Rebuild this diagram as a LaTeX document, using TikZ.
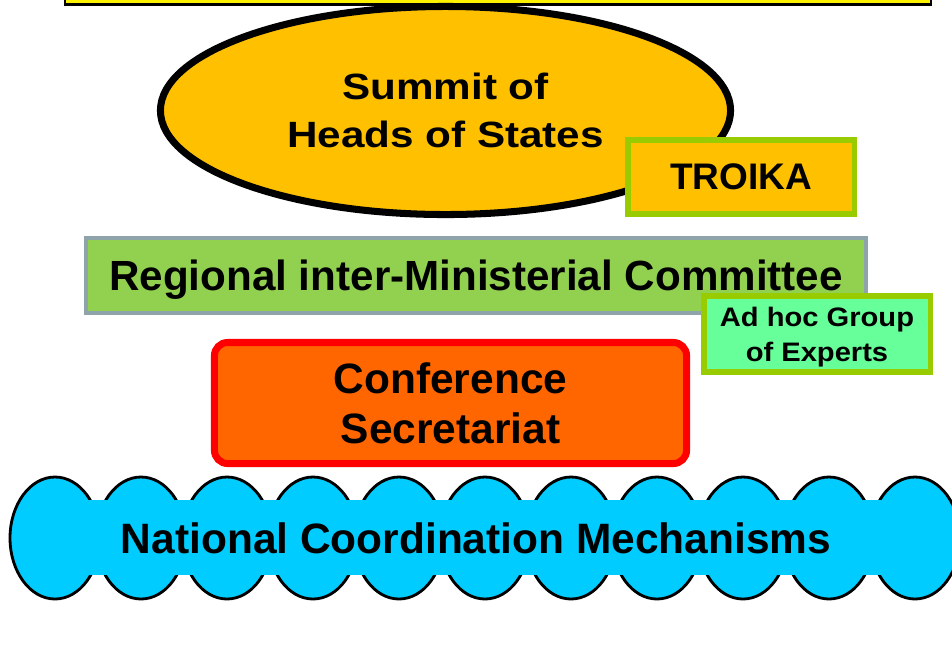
\documentclass[tikz,border=0pt]{standalone}
\usepackage{fontspec}
\setmainfont{Liberation Sans}
\newfontfamily\summitfont[FakeStretch=1.155]{Liberation Sans}
\newfontfamily\expertfont[FakeStretch=1.09]{Liberation Sans}
\usetikzlibrary{shapes.geometric}
\definecolor{summit}{HTML}{FFC000}
\definecolor{leaf}{HTML}{99CC00}
\definecolor{ministry}{HTML}{92D050}
\definecolor{slate}{HTML}{8EA4AA}
\definecolor{mint}{HTML}{66FF99}
\definecolor{secr}{HTML}{FF6600}
\definecolor{national}{HTML}{00CCFF}
\begin{document}
\begin{tikzpicture}[x=0.025cm,y=-0.025cm,
  big/.style={font=\bfseries\fontsize{30}{36}\selectfont,align=center},
  leafbox/.style={draw=leaf,line width=3.9pt,minimum width=5.66cm},
  bump/.style={draw,fill=national,line width=2pt}]
  \useasboundingbox (0,0) rectangle (952,653);
  \draw[fill=yellow,line width=2.1pt] (65,-20) rectangle (931,4.5);
  \node[ellipse,draw,fill=summit,line width=5pt,minimum width=14.25cm,
    minimum height=5.2cm,align=center,
    font=\summitfont\bfseries\fontsize{26}{34.4}\selectfont]
    (summit) at (445.5,110.5) {Summit of\\Heads of States};
  \node[leafbox,fill=summit,minimum height=1.86cm,big,
    font=\bfseries\fontsize{26.3}{30}\selectfont] (troika) at (741,177) {TROIKA};
  \node[draw=slate,fill=ministry,line width=2.8pt,minimum width=19.5cm,
    minimum height=1.875cm,big,text depth=0pt] (rimc) at (476,275.5)
    {Regional inter-Ministerial Committee};
  \node[leafbox,fill=mint,minimum height=1.91cm,align=center,text depth=0pt,
    font=\expertfont\bfseries\fontsize{19}{25}\selectfont] (adhoc) at (817,334)
    {Ad hoc Group\\of Experts};
  \node[draw=red,fill=secr,line width=5pt,rounded corners=0.33cm,
    minimum width=11.8cm,minimum height=3.025cm,big,
    font=\bfseries\fontsize{30.2}{35.6}\selectfont] (secretariat) at (450.5,403)
    {Conference\\Secretariat};
  \foreach \k in {0,...,10}
    \draw[bump] (55+86*\k,538) ellipse [x radius=45,y radius=61];
  \fill[national] (55,500) rectangle (915,575);
  \node[big,font=\bfseries\fontsize{30.2}{36}\selectfont] (ncm) at (476,538)
    {National Coordination Mechanisms};
\end{tikzpicture}
\end{document}
